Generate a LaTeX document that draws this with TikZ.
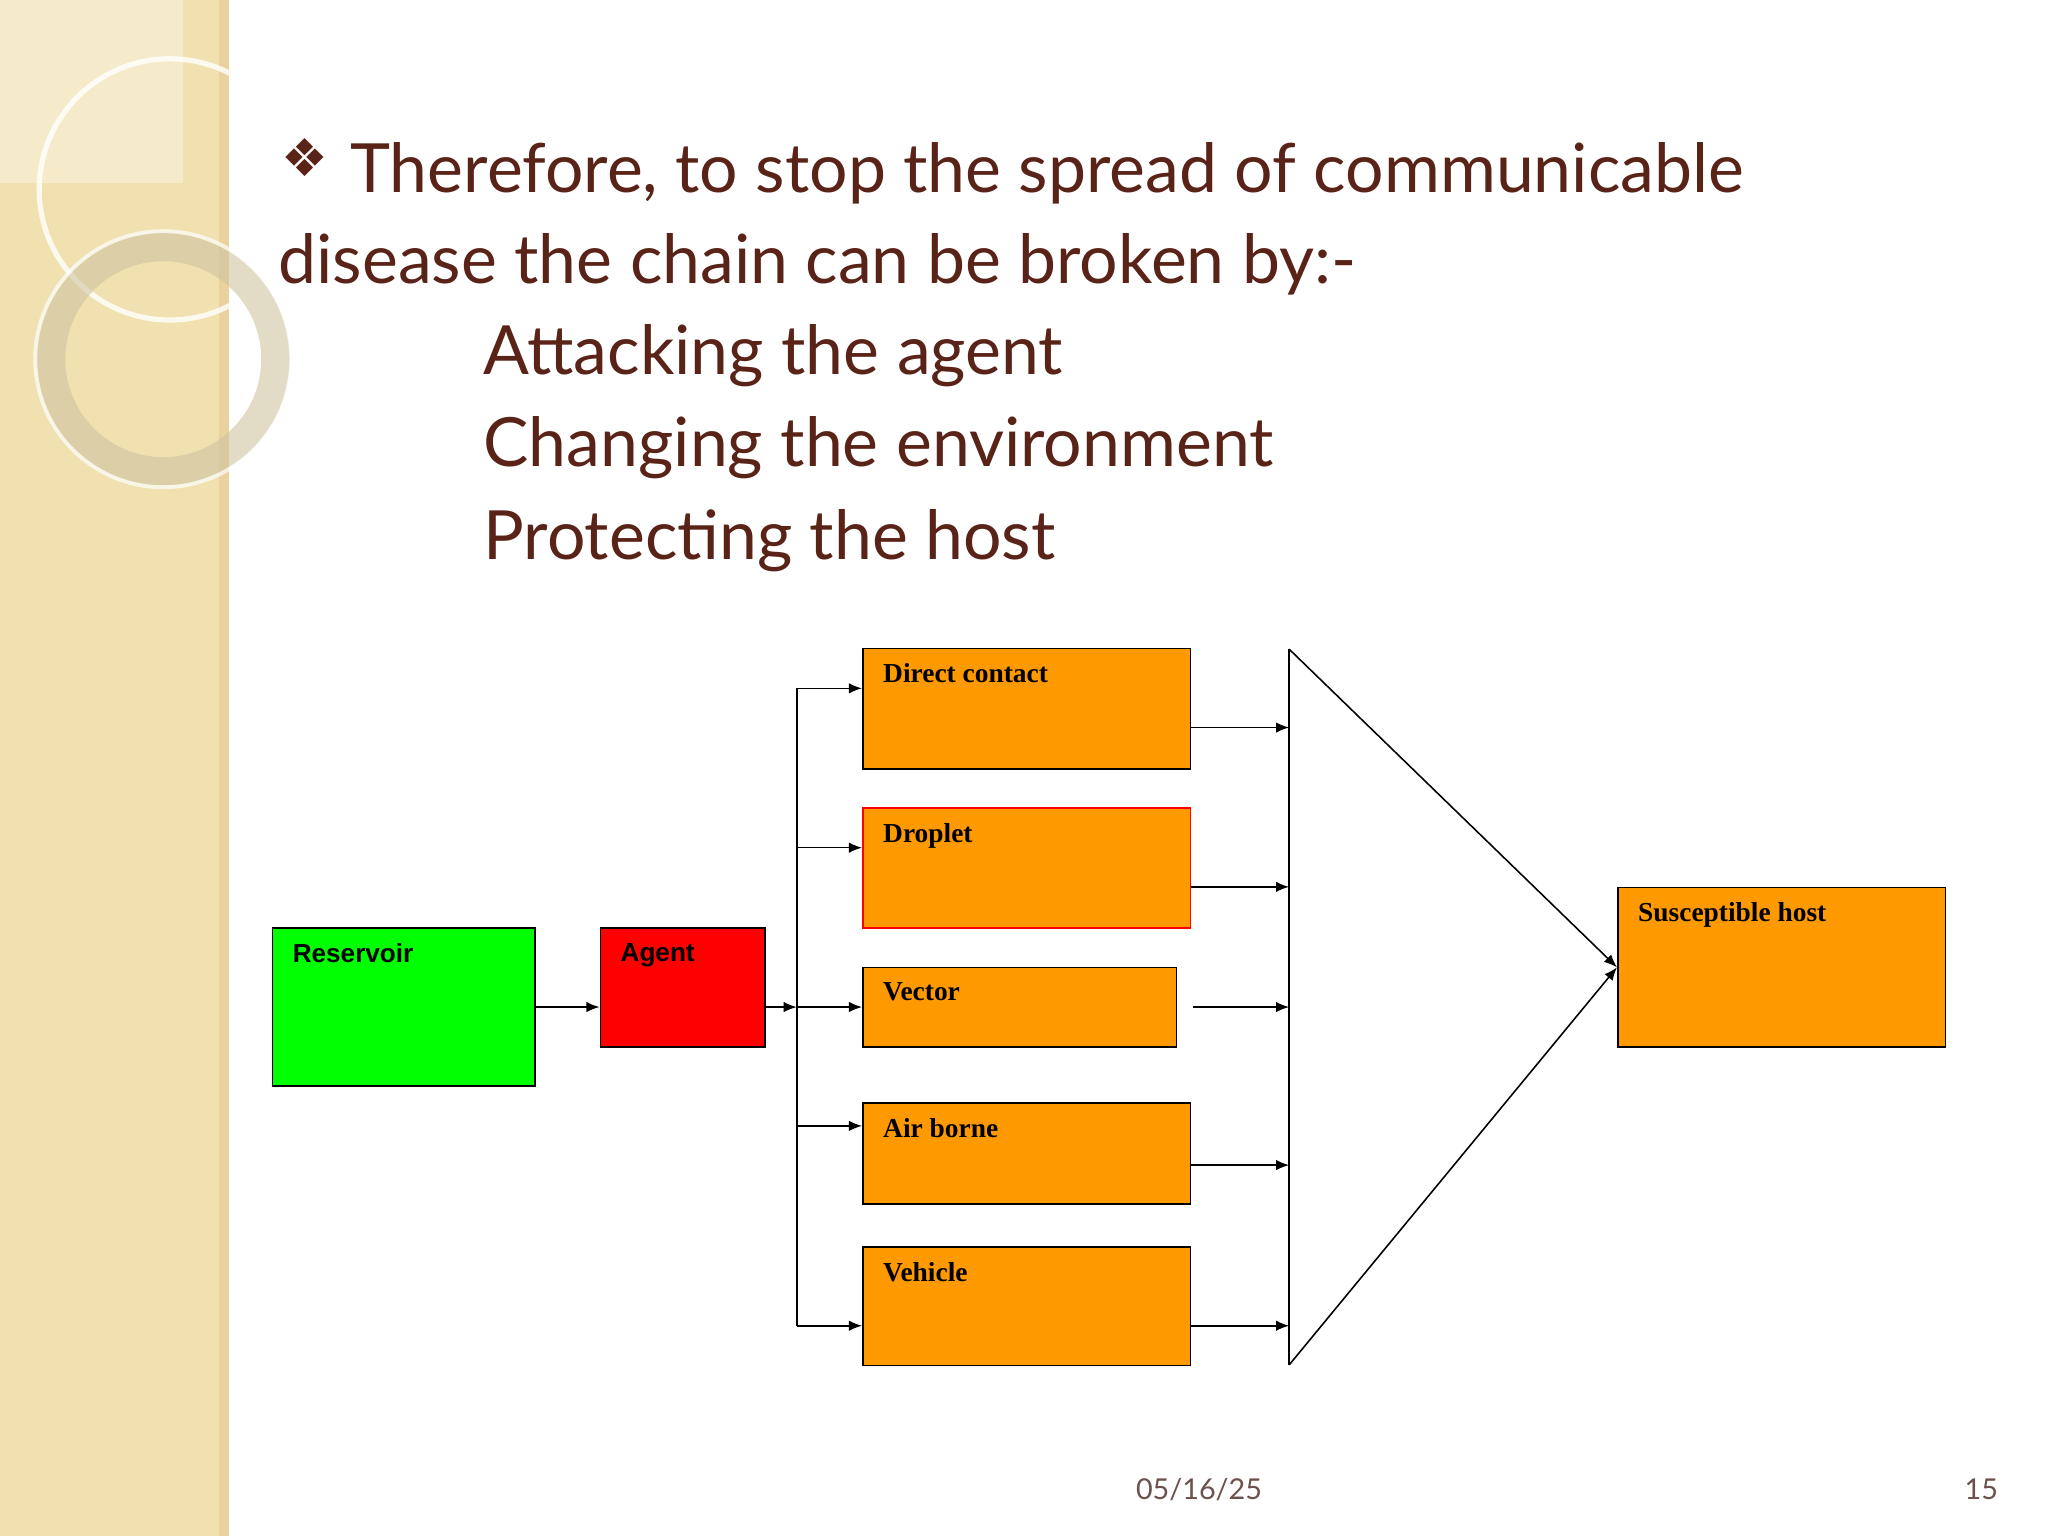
\documentclass[tikz,border=0pt]{standalone}
\usepackage{fontspec}
\setmainfont{Lato}
\newfontfamily\symf{DejaVu Sans}
\newfontfamily\arialf{Liberation Sans}
\newfontfamily\timesf{Liberation Serif}
\usetikzlibrary{arrows.meta}
\definecolor{brn}{HTML}{5A2318}
\definecolor{beige}{HTML}{F1E1B0}
\definecolor{orng}{HTML}{FF9900}
\tikzset{
  x=1pt,y=-1pt,
  bx/.style={draw=black,line width=1.2pt,anchor=north west,inner sep=0pt},
  lbl/.style={anchor=north west,inner sep=0pt,font=\timesf\bfseries\fontsize{21}{24}\selectfont},
  albl/.style={anchor=north west,inner sep=0pt,font=\arialf\bfseries\fontsize{20}{24}\selectfont},
  ar/.style={line width=1.2pt,-{Latex[length=10pt,width=8pt]}},
  ln/.style={line width=1.2pt},
  ttl/.style={anchor=base west,inner sep=0pt,text=brn,font=\fontsize{52}{60}\selectfont},
}
\begin{document}
\begin{tikzpicture}
\useasboundingbox (0,0) rectangle (1568,1176);
\fill[white] (0,0) rectangle (1568,1176);
% left band
\fill[beige] (0,0) rectangle (170,1176);
\fill[beige!85!brown] (168,0) rectangle (175,1176);
\fill[white,opacity=0.35] (0,0) rectangle (140,140);
\draw[white,opacity=0.8,line width=4pt] (130,145) circle (100);
\draw[beige!70!gray,line width=22pt,opacity=0.6] (125,275) circle (86);
\draw[white,opacity=0.7,line width=3pt] (125,275) circle (98);
% title
\node[anchor=base west,inner sep=0pt,text=brn,font=\symf\fontsize{40}{40}\selectfont] (dm) at (215,135) {❖};
\node[ttl] (t1) at (268,147) {Therefore, to stop the spread of communicable};
\node[ttl] (t2) at (213,217) {disease the chain can be broken by:-};
\node[ttl] (t3) at (370,287) {Attacking the agent};
\node[ttl] (t4) at (370,357) {Changing the environment};
\node[ttl] (t5) at (370,428) {Protecting the host};
% boxes
\node[bx,fill=green,minimum width=201pt,minimum height=121pt] (res) at (208,710) {};
\node[bx,fill=red,minimum width=126pt,minimum height=91pt] (ag) at (459,710) {};
\node[bx,fill=orng,minimum width=251pt,minimum height=92pt] (dc) at (660,496) {};
\node[bx,fill=orng,draw=red,minimum width=251pt,minimum height=92pt] (dr) at (660,618) {};
\node[bx,fill=orng,minimum width=240pt,minimum height=61pt] (ve) at (660,740) {};
\node[bx,fill=orng,minimum width=251pt,minimum height=77pt] (ai) at (660,844) {};
\node[bx,fill=orng,minimum width=251pt,minimum height=91pt] (vh) at (660,954) {};
\node[bx,fill=orng,minimum width=251pt,minimum height=122pt] (sh) at (1238,679) {};
\node[albl] (lres) at (224,722) {Reservoir};
\node[albl] (lag) at (475,722) {Agent};
\node[lbl] (ldc) at (676,508) {Direct contact};
\node[lbl] (ldr) at (676,630) {Droplet};
\node[lbl] (lve) at (676,752) {Vector};
\node[lbl] (lai) at (676,856) {Air borne};
\node[lbl] (lvh) at (676,966) {Vehicle};
\node[lbl] (lsh) at (1254,691) {Susceptible host};
% connectors
\coordinate (b0) at (610,527);
\coordinate (b1) at (610,1015);
\coordinate (bm) at (610,771);
\draw[ar] (res.east |- 0,771) -- (ag.west |- 0,771);
\draw[ar] (ag.east |- 0,771) -- (bm);
\draw[ln] (b0) -- (b1);
\draw[ar] (b0) -- (dc.west |- b0);
\draw[ar] (610,649) -- (dr.west |- 0,649);
\draw[ar] (bm) -- (ve.west |- bm);
\draw[ar] (610,862) -- (ai.west |- 0,862);
\draw[ar] (b1) -- (vh.west |- b1);
% triangle
\coordinate (tA) at (987,497);
\coordinate (tB) at (987,1045);
\coordinate (tC) at (sh.west);
\draw[ln] (tA) -- (tB);
\draw[ar] (tA) -- (tC);
\draw[ar] (tB) -- (tC);
\draw[ar] (dc.east |- 0,557) -- (tA |- 0,557);
\draw[ar] (dr.east |- 0,679) -- (tA |- 0,679);
\draw[ar] (913,771) -- (tA |- 0,771);
\draw[ar] (ai.east |- 0,892) -- (tA |- 0,892);
\draw[ar] (vh.east |- 0,1015) -- (tA |- 0,1015);
% footer
\node[anchor=base,inner sep=0pt,text=brn!50!gray,font=\fontsize{22}{24}\selectfont] (dt) at (918,1148) {05/16/25};
\node[anchor=base,inner sep=0pt,text=brn!50!gray,font=\fontsize{22}{24}\selectfont] (pg) at (1517,1148) {15};
\end{tikzpicture}
\end{document}
